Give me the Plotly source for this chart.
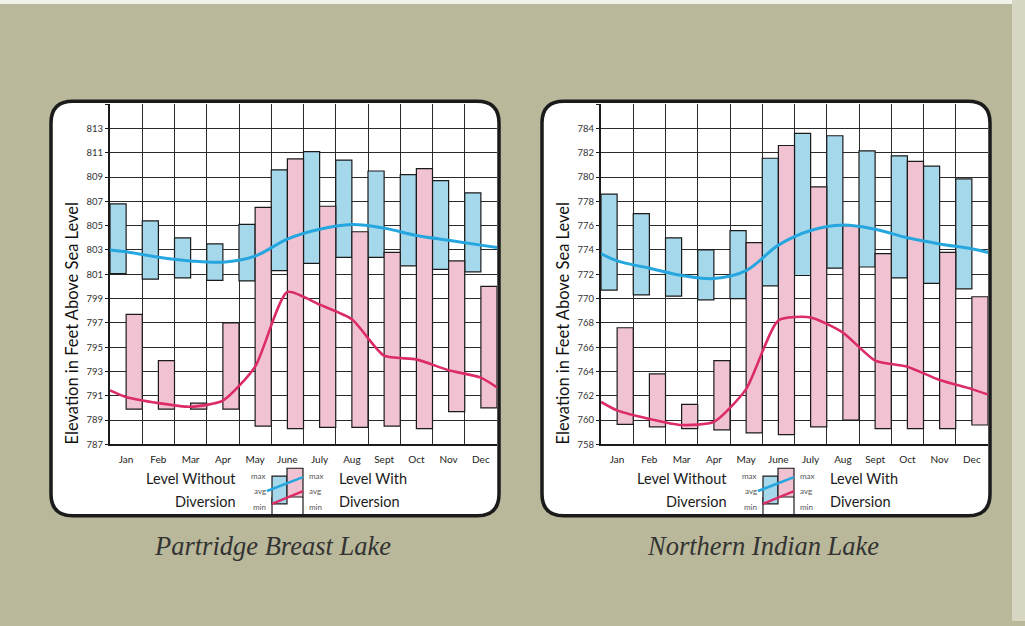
import plotly.graph_objects as go

W, H = 1025, 626

months = ["Jan", "Feb", "Mar", "Apr", "May", "June", "July", "Aug", "Sept", "Oct", "Nov", "Dec"]

# ---------------- Partridge Breast Lake ----------------
pb_without_max = [806.8, 805.4, 804.0, 803.5, 805.1, 809.6, 811.1, 810.4, 809.5, 809.2, 808.7, 807.7]
pb_without_min = [801.05, 800.6, 800.7, 800.5, 800.45, 801.3, 801.9, 802.4, 802.4, 801.7, 801.4, 801.2]
pb_with_max = [797.7, 793.9, 790.4, 797.0, 806.5, 810.5, 806.6, 804.5, 802.8, 809.7, 802.1, 800.0]
pb_with_min = [789.9, 789.9, 789.9, 789.9, 788.5, 788.3, 788.4, 788.4, 788.5, 788.3, 789.7, 790.0]
# average curves: left edge, 12 month centres, right edge
pb_without_avg = [803.0, 802.85, 802.4, 802.1, 802.0, 802.5, 803.9, 804.7, 805.1, 804.8, 804.2, 803.8, 803.4, 803.2]
pb_with_avg = [791.45, 790.9, 790.4, 790.1, 790.6, 793.4, 799.55, 798.5, 797.3, 794.3, 794.0, 793.1, 792.5, 791.7]
pb_ticks = [787, 789, 791, 793, 795, 797, 799, 801, 803, 805, 807, 809, 811, 813, 815]
pb_range = [787, 815]

# ---------------- Northern Indian Lake ----------------
ni_without_max = [778.6, 777.0, 775.0, 774.0, 775.6, 781.55, 783.6, 783.4, 782.15, 781.75, 780.9, 779.85]
ni_without_min = [770.7, 770.3, 770.2, 769.9, 770.0, 771.05, 771.9, 772.5, 772.6, 771.7, 771.25, 770.8]
ni_with_max = [767.6, 763.8, 761.3, 764.9, 774.6, 782.6, 779.2, 776.0, 773.7, 781.3, 773.8, 770.15]
ni_with_min = [759.65, 759.45, 759.3, 759.2, 758.95, 758.8, 759.45, 760.0, 759.3, 759.3, 759.3, 759.6]
ni_without_avg = [773.7, 773.1, 772.5, 771.9, 771.65, 772.3, 774.4, 775.6, 776.05, 775.7, 775.0, 774.5, 774.1, 773.8]
ni_with_avg = [761.5, 760.8, 760.1, 759.6, 759.85, 762.55, 768.2, 768.45, 767.2, 764.9, 764.4, 763.3, 762.55, 762.1]
ni_ticks = [758, 760, 762, 764, 766, 768, 770, 772, 774, 776, 778, 780, 782, 784, 786]
ni_range = [758, 786]

titles = ["Partridge Breast Lake", "Northern Indian Lake"]
y_title = "Elevation in Feet Above Sea Level"

# ---------------- styling ----------------
BG = "#b9b89a"
BLUE_FILL = "#a6d8ec"
PINK_FILL = "#f1c3d2"
BLUE_LINE = "#26a6de"
PINK_LINE = "#dc2c68"
INK = "#1b1b1b"
SANS = "Lato, 'Open Sans', sans-serif"
SERIF = "'Liberation Serif', 'DejaVu Serif', serif"


def px(x):
    return x / W


def py(y):
    return 1 - y / H


fig = go.Figure()

month_idx = list(range(12))
edge_x = [-0.5] + month_idx + [11.5]

panels = [
    dict(xa="x", ya="y", wmax=pb_without_max, wmin=pb_without_min, vmax=pb_with_max, vmin=pb_with_min,
         wavg=pb_without_avg, vavg=pb_with_avg, ticks=pb_ticks, rng=pb_range,
         card=(51, 102, 499, 520), plot=(110, 105, 497, 448)),
    dict(xa="x2", ya="y2", wmax=ni_without_max, wmin=ni_without_min, vmax=ni_with_max, vmin=ni_with_min,
         wavg=ni_without_avg, vavg=ni_with_avg, ticks=ni_ticks, rng=ni_range,
         card=(542, 102, 990, 520), plot=(601, 105, 988, 448)),
]

for p in panels:
    fig.add_trace(go.Bar(
        x=[i - 0.25 for i in month_idx],
        y=[a - b for a, b in zip(p["wmax"], p["wmin"])],
        base=p["wmin"], width=0.5,
        marker=dict(color=BLUE_FILL, line=dict(color=INK, width=1.2)),
        xaxis=p["xa"], yaxis=p["ya"], showlegend=False, hoverinfo="skip"))
    fig.add_trace(go.Bar(
        x=[i + 0.25 for i in month_idx],
        y=[a - b for a, b in zip(p["vmax"], p["vmin"])],
        base=p["vmin"], width=0.5,
        marker=dict(color=PINK_FILL, line=dict(color=INK, width=1.2)),
        xaxis=p["xa"], yaxis=p["ya"], showlegend=False, hoverinfo="skip"))
    fig.add_trace(go.Scatter(
        x=edge_x, y=p["wavg"], mode="lines",
        line=dict(color=BLUE_LINE, width=3, shape="spline", smoothing=1.0),
        xaxis=p["xa"], yaxis=p["ya"], showlegend=False, hoverinfo="skip"))
    fig.add_trace(go.Scatter(
        x=edge_x, y=p["vavg"], mode="lines",
        line=dict(color=PINK_LINE, width=2.6, shape="spline", smoothing=0.6),
        xaxis=p["xa"], yaxis=p["ya"], showlegend=False, hoverinfo="skip"))

shapes = []
annotations = []


def rounded_path(x0, y0, x1, y1, r):
    return (f"M {px(x0 + r)},{py(y0)} L {px(x1 - r)},{py(y0)} Q {px(x1)},{py(y0)} {px(x1)},{py(y0 + r)} "
            f"L {px(x1)},{py(y1 - r)} Q {px(x1)},{py(y1)} {px(x1 - r)},{py(y1)} "
            f"L {px(x0 + r)},{py(y1)} Q {px(x0)},{py(y1)} {px(x0)},{py(y1 - r)} "
            f"L {px(x0)},{py(y0 + r)} Q {px(x0)},{py(y0)} {px(x0 + r)},{py(y0)} Z")


def line(x0, y0, x1, y1, color, width, layer="above"):
    shapes.append(dict(type="line", xref="paper", yref="paper", x0=px(x0), y0=py(y0), x1=px(x1), y1=py(y1),
                       line=dict(color=color, width=width), layer=layer))


def rect(x0, y0, x1, y1, fill, lc=INK, lw=1.2):
    shapes.append(dict(type="rect", xref="paper", yref="paper", x0=px(x0), y0=py(y0), x1=px(x1), y1=py(y1),
                       fillcolor=fill, line=dict(color=lc, width=lw), layer="above"))


def text(x, y, s, size, xanchor="center", color=INK, family=SANS, angle=0):
    annotations.append(dict(xref="paper", yref="paper", x=px(x), y=py(y), text=s, showarrow=False,
                            xanchor=xanchor, yanchor="middle", textangle=angle,
                            font=dict(size=size, color=color, family=family)))


# page strips
shapes.append(dict(type="rect", xref="paper", yref="paper", x0=0, x1=1, y0=py(4), y1=1,
                   fillcolor="#f2f2ea", line=dict(width=0), layer="below"))
shapes.append(dict(type="rect", xref="paper", yref="paper", x0=px(1012), x1=1, y0=0, y1=1,
                   fillcolor="#d6d6c2", line=dict(width=0), layer="below"))

R = 22
for k, p in enumerate(panels):
    cx0, cy0, cx1, cy1 = p["card"]
    # card fill
    shapes.append(dict(type="path", xref="paper", yref="paper", path=rounded_path(cx0, cy0, cx1, cy1, R),
                       fillcolor="white", line=dict(width=0), layer="below"))
    # mask the grid outside the rounded top-right corner
    mask = (f"M {px(cx1 - R)},{py(cy0 - 3)} L {px(cx1 + 3)},{py(cy0 - 3)} L {px(cx1 + 3)},{py(cy0 + R)} "
            f"L {px(cx1)},{py(cy0 + R)} Q {px(cx1)},{py(cy0)} {px(cx1 - R)},{py(cy0)} Z")
    shapes.append(dict(type="path", xref="paper", yref="paper", path=mask,
                       fillcolor=BG, line=dict(width=0), layer="above"))
    # card border
    shapes.append(dict(type="path", xref="paper", yref="paper", path=rounded_path(cx0, cy0, cx1, cy1, R),
                       fillcolor="rgba(0,0,0,0)", line=dict(color=INK, width=3.5), layer="above"))

    ox = p["plot"][0]
    # legend graphic
    line(ox + 162, 501, ox + 162, cy1, INK, 1.2)
    line(ox + 193, 501, ox + 193, cy1, INK, 1.2)
    rect(ox + 162, 480, ox + 177, 508, BLUE_FILL)
    rect(ox + 177, 472, ox + 193, 501, PINK_FILL)
    line(ox + 157, 495, ox + 193, 481, BLUE_LINE, 2.6)
    line(ox + 162, 508, ox + 193, 495, PINK_LINE, 2.4)
    for lbl, yy in (("max", 480), ("avg", 495), ("min", 511)):
        text(ox + 158, yy, lbl, 8, "right", "#555")
        text(ox + 197, yy, lbl, 8, "left", "#555")
    text(ox + 128, 482, "Level Without", 14.5, "right")
    text(ox + 128, 506, "Diversion", 14.5, "right")
    text(ox + 227, 482, "Level With", 14.5, "left")
    text(ox + 227, 506, "Diversion", 14.5, "left")

    # y-axis title
    text(cx0 + 21, 326, y_title, 16.5, "center", "#111", SANS, -90)
    # lake title
    text((cx0 + cx1) / 2 - 3, 550, f"<i>{titles[k]}</i>", 26.5, "center", "#333", SERIF)

fig.update_layout(shapes=shapes, annotations=annotations)

for p, suf in zip(panels, ["", "2"]):
    x0, y0, x1, y1 = p["plot"]
    xax = dict(domain=[px(x0), px(x1)], range=[-0.5, 11.5], anchor="y" + suf,
               tickmode="array", tickvals=month_idx, ticktext=months, showgrid=False,
               ticks="", tickfont=dict(size=10, color=INK, family=SANS), ticklabelstandoff=5,
               showline=True, linecolor=INK, linewidth=2, zeroline=False, fixedrange=True,
               minor=dict(tickmode="array", tickvals=[i + 0.5 for i in month_idx[:-1]],
                          showgrid=True, gridcolor="#2a2a2a", gridwidth=1, ticks=""))
    yax = dict(domain=[py(y1), py(y0)], range=p["rng"], anchor="x" + suf,
               tickmode="array", tickvals=p["ticks"], ticktext=[str(v) for v in p["ticks"][:-1]] + [""],
               showgrid=True, gridcolor="#2a2a2a", gridwidth=1,
               ticks="outside", ticklen=3, tickcolor=INK, tickwidth=1,
               tickfont=dict(size=9.5, color="#333", family=SANS),
               showline=True, linecolor=INK, linewidth=2, zeroline=False, fixedrange=True)
    fig.update_layout(**{"xaxis" + suf: xax, "yaxis" + suf: yax})

fig.update_layout(
    width=W, height=H, margin=dict(l=0, r=0, t=0, b=0),
    paper_bgcolor=BG, plot_bgcolor="rgba(0,0,0,0)",
    barmode="overlay", showlegend=False,
)

fig.write_html("out.html", config={"displayModeBar": False, "staticPlot": True},
               post_script="document.body.style.margin='0';document.body.style.overflow='hidden';")
